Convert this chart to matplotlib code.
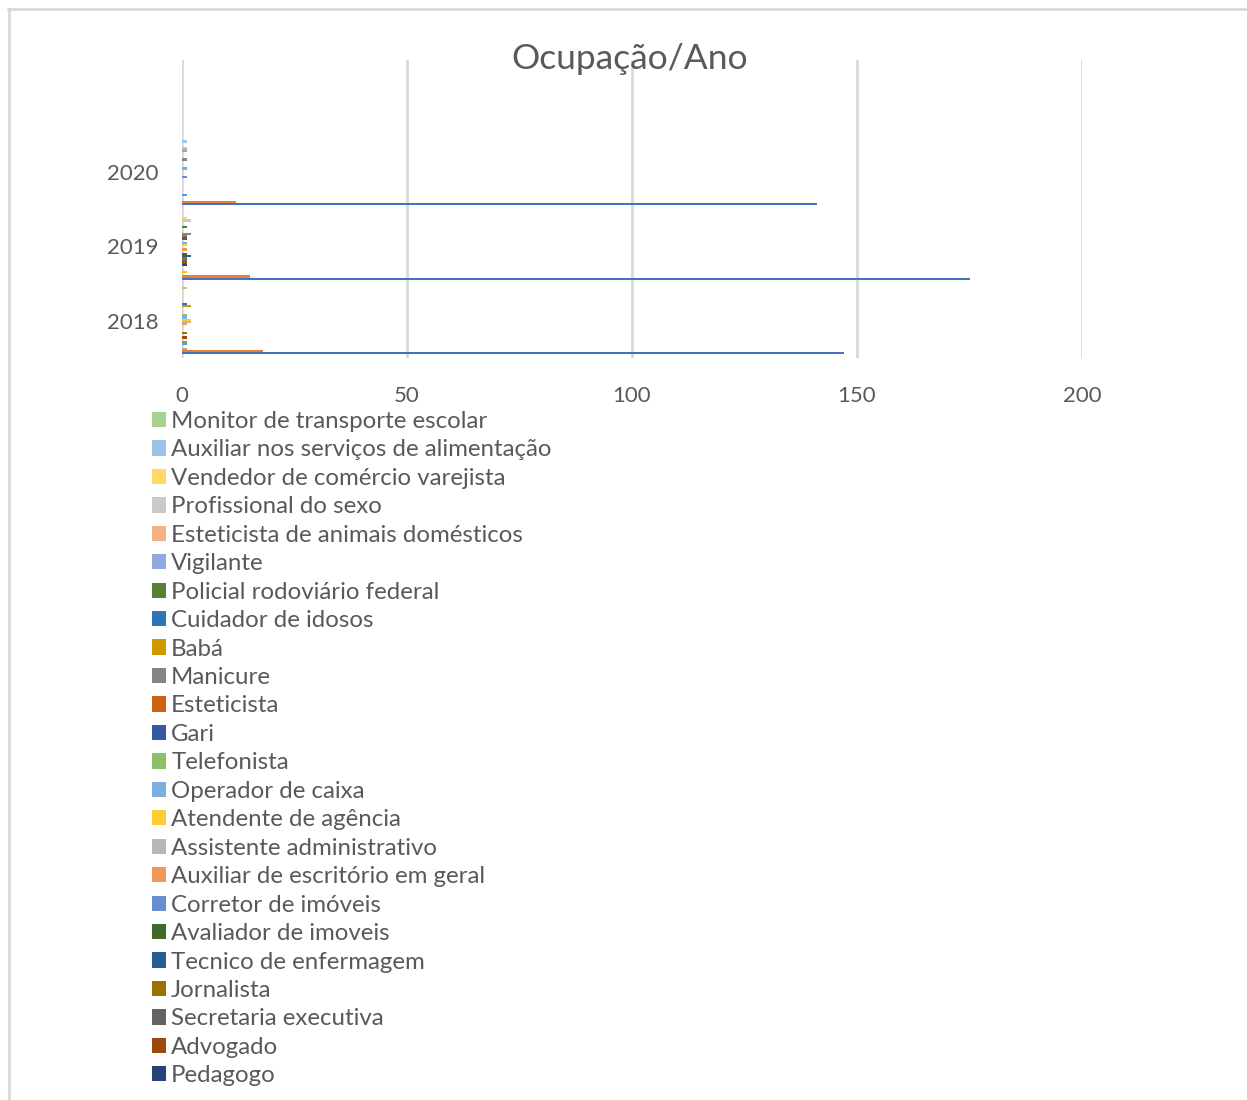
import matplotlib
matplotlib.use('Agg')
import matplotlib.pyplot as plt
import numpy as np
from matplotlib.lines import Line2D

plt.rcParams['font.family'] = ['Lato', 'DejaVu Sans']

years = ['2018', '2019', '2020']

# series 1-6 have no visible legend entry (legend is cut off in the source)
occupations = ['', '', '', '', '', '',
               'Pedagogo', 'Advogado', 'Secretaria executiva', 'Jornalista',
               'Tecnico de enfermagem', 'Avaliador de imoveis', 'Corretor de imóveis',
               'Auxiliar de escritório em geral', 'Assistente administrativo',
               'Atendente de agência', 'Operador de caixa', 'Telefonista', 'Gari',
               'Esteticista', 'Manicure', 'Babá', 'Cuidador de idosos',
               'Policial rodoviário federal', 'Vigilante', 'Esteticista de animais domésticos',
               'Profissional do sexo', 'Vendedor de comércio varejista',
               'Auxiliar nos serviços de alimentação', 'Monitor de transporte escolar']

v2018 = [147, 18, 1, 0, 1, 1, 0, 1, 0, 1, 0, 0, 0, 1, 2, 2, 1, 1, 0, 0, 0, 2, 1, 0, 0, 0, 0, 0, 0, 1]
v2019 = [175, 15, 0, 1, 0, 0, 1, 1, 1, 1, 2, 1, 0, 1, 0, 1, 1, 0, 1, 1, 2, 0, 0, 1, 0, 0, 2, 1, 0, 0]
v2020 = [141, 12, 0, 0, 1, 0, 0, 0, 0, 0, 0, 0, 1, 0, 0, 0, 1, 0, 0, 0, 1, 0, 0, 0, 1, 1, 0, 0, 1, 0]

# Office palette
colors = ['#4472C4', '#ED7D31', '#A5A5A5', '#FFC000', '#5B9BD5', '#70AD47',
          '#264478', '#9E480E', '#636363', '#997300', '#255E91', '#43682B',
          '#698ED0', '#F1975A', '#B7B7B7', '#FFCD33', '#7CAFDD', '#8CC168',
          '#335AA1', '#D26012', '#848484', '#CC9A00', '#2E75B6', '#548235',
          '#8FAADC', '#F4B183', '#C9C9C9', '#FFD966', '#9DC3E6', '#A9D18E']

text_color = '#595959'
grid_color = '#D9D9D9'

W, H = 1247, 1100
fig = plt.figure(figsize=(W / 100, H / 100), dpi=100)

# chart border (cropped at right and bottom)
fig.add_artist(Line2D([8 / W, 1.0], [1 - 9 / H, 1 - 9 / H], color=grid_color, lw=2))
fig.add_artist(Line2D([9 / W, 9 / W], [1 - 9 / H, 0], color=grid_color, lw=2))

ax = fig.add_axes([182 / W, 1 - 358 / H, 900 / W, 298 / H])

values = np.array([v2018, v2019, v2020]).T
n = len(occupations)
group = 0.9
h = group / n
ypos = np.arange(len(years))

handles = []
for i in range(n):
    b = ax.barh(ypos - group / 2 + (i + 0.5) * h, values[i], height=h,
                color=colors[i], linewidth=0)
    handles.append(b)

ax.set_xlim(0, 200)
ax.set_ylim(-0.5, 3.5)
ax.set_xticks([0, 50, 100, 150, 200])
ax.set_yticks(ypos)
ax.set_yticklabels(years)
ax.tick_params(length=0, labelsize=16, colors=text_color)
ax.tick_params(axis='y', pad=17)
ax.tick_params(axis='x', pad=20)
ax.xaxis.grid(True, color=grid_color, lw=2)
ax.set_axisbelow(True)
for s in ax.spines.values():
    s.set_visible(False)

fig.text(0.505, 1 - 59 / H, 'Ocupação/Ano', ha='center', va='center',
         fontsize=25.5, color=text_color)

leg_handles = [handles[i] for i in range(n - 1, 5, -1)]
leg_labels = [occupations[i] for i in range(n - 1, 5, -1)]
fig.legend(leg_handles, leg_labels, loc='upper left',
           bbox_to_anchor=(152 / W, 1 - 411 / H), frameon=False,
           fontsize=17.3, labelcolor=text_color, handlelength=0.6,
           handleheight=0.6, handletextpad=0.2, labelspacing=0.31,
           borderpad=0, borderaxespad=0)

fig.savefig('out.png', dpi=100)
